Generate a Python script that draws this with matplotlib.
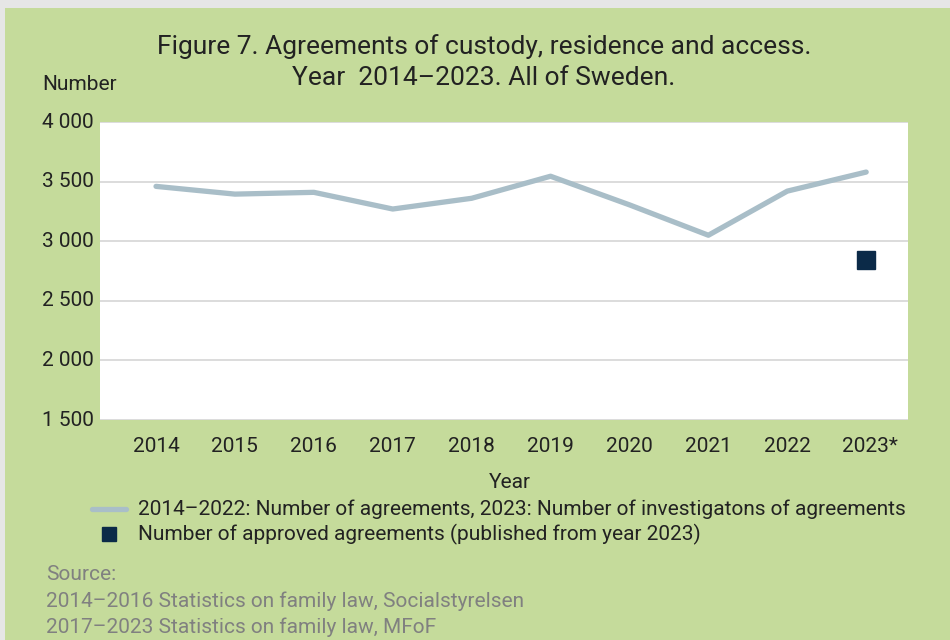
import matplotlib.pyplot as plt
from matplotlib.patches import Rectangle
from matplotlib.lines import Line2D

plt.rcParams["font.family"] = ["Roboto", "DejaVu Sans"]

# data
years = ["2014", "2015", "2016", "2017", "2018", "2019", "2020", "2021", "2022", "2023*"]
agreements = [3460, 3395, 3410, 3270, 3360, 3545, 3305, 3050, 3420, 3580]
approved_2023 = 2840
yticks = [1500, 2000, 2500, 3000, 3500, 4000]

W, H = 950, 640
bg = "#C5DB9B"
line_col = "#A9BEC8"
sq_col = "#0B2A48"
txt = "#222222"
fs = 15
fw = "normal"


def fx(x):
    return x / W


def fy(y):
    return 1 - y / H


fig = plt.figure(figsize=(9.5, 6.4), dpi=100)
fig.patch.set_facecolor(bg)
# thin grey frame on top and left
fig.patches.append(Rectangle((0, fy(8)), 1, 1 - fy(8), transform=fig.transFigure,
                             facecolor="#E6E6E6", edgecolor="none", zorder=-1))
fig.patches.append(Rectangle((0, 0), fx(5), 1, transform=fig.transFigure,
                             facecolor="#E6E6E6", edgecolor="none", zorder=-1))

ax = fig.add_axes([fx(100), fy(420), fx(908) - fx(100), fy(122) - fy(420)])
ax.set_zorder(2)
ax.set_facecolor("white")
x = list(range(len(years)))
ax.plot(x, agreements, color=line_col, lw=3.8, solid_capstyle="round", zorder=3)
ax.plot([9], [approved_2023], marker="s", ms=13.5, color=sq_col, ls="none", zorder=4)

ax.set_ylim(1500, 4000)
ax.set_xlim(-0.71, 9.53)
for v in yticks:
    ax.axhline(v, color="#D9D9D9", lw=1.3, zorder=1)
ax.set_yticks([])
ax.set_xticks([])
for s in ax.spines.values():
    s.set_visible(False)

# y tick labels
for v in yticks:
    lab = f"{v:,}".replace(",", " ")
    yp = 122 + (4000 - v) / 2500 * 298
    fig.text(fx(42), fy(yp), lab, fontsize=fs, fontweight=fw, color=txt, ha="left", va="center")
# x tick labels
for i, lab in enumerate(years):
    xp = 156 + i * 78.9
    if lab.endswith("*"):
        fig.text(fx(xp - 24), fy(447), lab, fontsize=fs, fontweight=fw, color=txt, ha="left", va="center")
    else:
        fig.text(fx(xp), fy(447), lab, fontsize=fs, fontweight=fw, color=txt, ha="center", va="center")

fig.text(fx(510), fy(482), "Year", fontsize=fs, fontweight=fw, color=txt, ha="center", va="center")
fig.text(fx(42), fy(85), "Number", fontsize=fs, fontweight=fw, color=txt, ha="left", va="center")
fig.text(fx(484), fy(47), "Figure 7. Agreements of custody, residence and access.",
         fontsize=19, fontweight=fw, color=txt, ha="center", va="center")
fig.text(fx(484), fy(78), "Year  2014\u20132023. All of Sweden.",
         fontsize=19, fontweight=fw, color=txt, ha="center", va="center")

# legend
fig.lines.append(Line2D([fx(92), fx(126)], [fy(509), fy(509)], transform=fig.transFigure,
                        color=line_col, lw=3.8, solid_capstyle="round"))
fig.text(fx(138), fy(509), "2014\u20132022: Number of agreements, 2023: Number of investigatons of agreements",
         fontsize=fs, fontweight=fw, color=txt, ha="left", va="center")
fig.lines.append(Line2D([fx(109)], [fy(534)], transform=fig.transFigure,
                        marker="s", ms=10, color=sq_col, ls="none"))
fig.text(fx(138), fy(534), "Number of approved agreements (published from year 2023)",
         fontsize=fs, fontweight=fw, color=txt, ha="left", va="center")

# source
src_col = "#808080"
for yy, s in [(575, "Source:"),
              (601, "2014\u20132016 Statistics on family law, Socialstyrelsen"),
              (627, "2017\u20132023 Statistics on family law, MFoF")]:
    fig.text(fx(46), fy(yy), s, fontsize=fs, fontweight=fw, color=src_col, ha="left", va="center")

fig.savefig("out.png", dpi=100, facecolor=fig.get_facecolor())
